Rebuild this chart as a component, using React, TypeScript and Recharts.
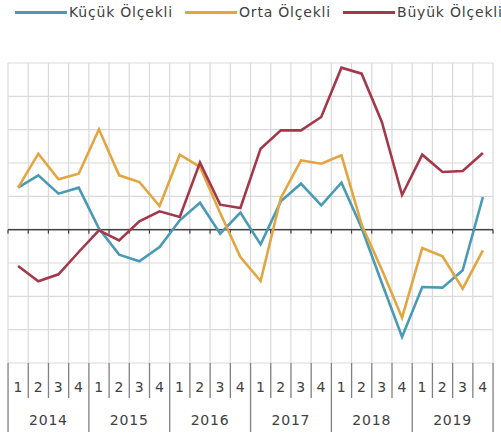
import React from 'react';
import { LineChart, Line, XAxis, YAxis, CartesianGrid, ReferenceLine } from 'recharts';

// years and quarters on the two-level x axis
const years = ['2014', '2015', '2016', '2017', '2018', '2019'];
const quarters = ['1', '2', '3', '4'];

// series values, 2014Q1 .. 2019Q4
const kucuk = [12.6, 16.3, 10.8, 12.6, 0.3, -7.5, -9.5, -5.2, 2.8, 8.1, -1.2, 5.1, -4.4, 8.5, 13.8, 7.3, 14.1, 0.5, -16.0, -32.2, -17.2, -17.4, -12.2, 9.8];
const orta = [12.6, 22.8, 15.1, 16.8, 30.1, 16.3, 14.3, 7.1, 22.5, 18.8, 5.0, -8.2, -15.4, 9.5, 20.8, 19.8, 22.3, 1.5, -12.0, -26.4, -5.5, -8.0, -17.7, -6.2];
const buyuk = [-10.9, -15.5, -13.4, -6.7, -0.2, -3.2, 2.5, 5.5, 3.8, 20.1, 7.5, 6.5, 24.3, 29.8, 29.8, 33.8, 48.6, 46.8, 32.3, 10.4, 22.5, 17.3, 17.6, 23.0];

const yTicks = [-40, -30, -20, -10, 0, 10, 20, 30, 40, 50];

const series = [
  { key: 'kucuk', name: 'Küçük Ölçekli', color: '#4a9ab5' },
  { key: 'orta', name: 'Orta Ölçekli', color: '#e2a540' },
  { key: 'buyuk', name: 'Büyük Ölçekli', color: '#a3384b' },
];

const data = years.flatMap((y, yi) =>
  quarters.map((q, qi) => ({
    key: `${y}-${q}`,
    kucuk: kucuk[yi * 4 + qi],
    orta: orta[yi * 4 + qi],
    buyuk: buyuk[yi * 4 + qi],
  }))
);

const W = 501;
const H = 437;
const AXIS_H = 74;
const margin = { top: 63, right: 8, bottom: 0, left: 8 };
const bw = (W - margin.left - margin.right) / data.length;
const FONT = '"DejaVu Sans", Verdana, sans-serif';
const SEP = '#808080';

const QuarterTick = (props: any) => {
  const { payload, index } = props;
  const x = Number(props.x);
  const y = Number(props.y);
  const [year, q] = String(payload.value).split('-');
  const last = index === data.length - 1;
  const left = x - bw / 2;
  return (
    <g>
      <rect x={left - 0.6} y={y} width={1.3} height={q === '1' ? 69 : 35} fill={SEP} />
      {last && <rect x={x + bw / 2 - 0.6} y={y} width={1.3} height={69} fill={SEP} />}
      <text x={x} y={y + 29} textAnchor="middle" fontSize={14} letterSpacing={0.4} fill="#404040" fontFamily={FONT}>
        {q}
      </text>
      {q === '1' && (
        <text x={x + 1.5 * bw} y={y + 62} textAnchor="middle" fontSize={14} letterSpacing={0.8} fill="#404040" fontFamily={FONT}>
          {year}
        </text>
      )}
    </g>
  );
};

const ZeroLine = (p: any) => {
  const x1 = Number(p.x1);
  const x2 = Number(p.x2);
  const y1 = Number(p.y1);
  const step = (x2 - x1) / data.length;
  return (
    <g>
      <rect x={x1} y={y1 - 0.75} width={x2 - x1} height={1.5} fill="#404040" />
      {Array.from({ length: data.length + 1 }, (_, i) => (
        <rect key={i} x={x1 + i * step - 0.6} y={y1} width={1.2} height={4} fill="#404040" />
      ))}
    </g>
  );
};

const App = () => {
  return (
    <div style={{ position: 'absolute', left: 0, top: 0, width: W, height: H, background: '#fff', fontFamily: FONT }}>
      {/* legend */}
      <div style={{ position: 'absolute', top: 4, left: 15, display: 'flex', alignItems: 'center', gap: 12, fontSize: 14, letterSpacing: 0.8, color: '#404040', whiteSpace: 'nowrap' }}>
        {series.map((s) => (
          <div key={s.key} style={{ display: 'flex', alignItems: 'center' }}>
            <span style={{ display: 'inline-block', width: 52, height: 3, background: s.color, marginRight: 2 }} />
            <span>{s.name}</span>
          </div>
        ))}
      </div>
      <LineChart width={W} height={H} data={data} margin={margin}>
        <CartesianGrid
          stroke="#d9d9d9"
          strokeWidth={1.2}
          verticalCoordinatesGenerator={({ offset }: any) =>
            Array.from({ length: data.length + 1 }, (_, i) => offset.left + (i * offset.width) / data.length)
          }
          horizontalCoordinatesGenerator={({ offset }: any) =>
            yTicks.map((_, i) => offset.top + (i * offset.height) / (yTicks.length - 1))
          }
        />
        <XAxis
          dataKey="key"
          scale="band"
          height={AXIS_H}
          interval={0}
          axisLine={false}
          tickLine={false}
          tickSize={0}
          tickMargin={0}
          tick={<QuarterTick />}
        />
        <YAxis hide domain={[-40, 50]} ticks={yTicks} />
        <ReferenceLine y={0} shape={<ZeroLine />} />
        {series.map((s) => (
          <Line
            key={s.key}
            type="linear"
            dataKey={s.key}
            name={s.name}
            stroke={s.color}
            strokeWidth={2.6}
            dot={false}
            isAnimationActive={false}
          />
        ))}
      </LineChart>
    </div>
  );
};

export default App;
